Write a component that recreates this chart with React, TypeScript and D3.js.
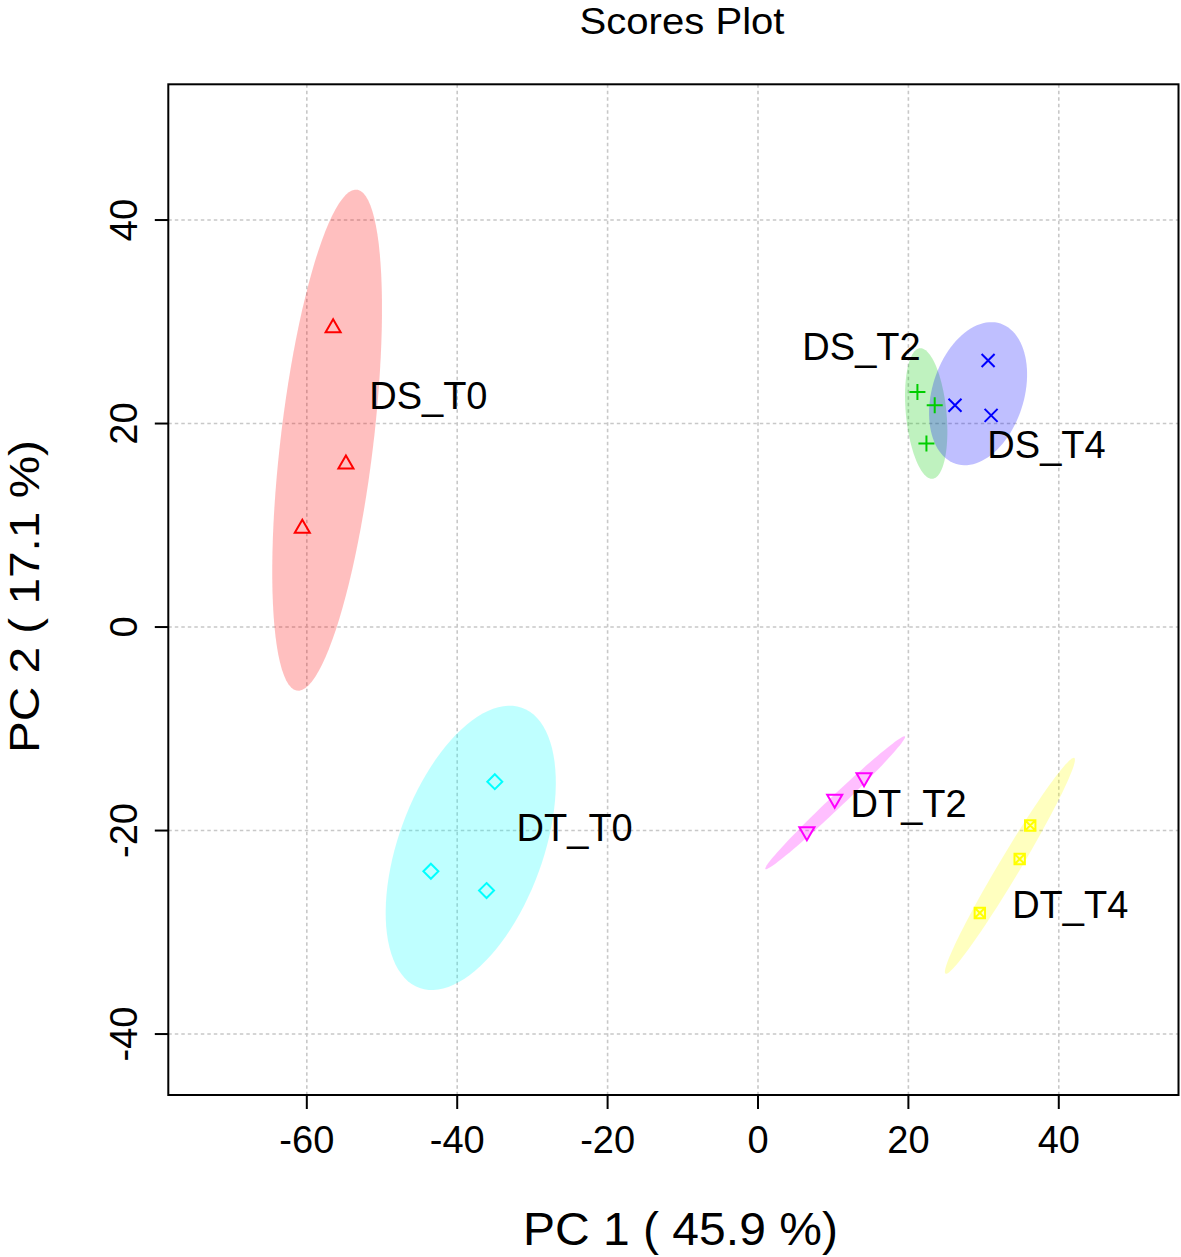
import React from "react";
import * as d3 from "d3";

// ---------- data ----------
const groups = ["DS_T0", "DS_T2", "DS_T4", "DT_T0", "DT_T2", "DT_T4"];

const pc1Scores = [
  [-56.5, -54.8, -60.6],
  [21.2, 23.5, 22.4],
  [30.6, 26.2, 31.0],
  [-35.0, -43.5, -36.1],
  [14.1, 10.2, 6.5],
  [36.2, 34.8, 29.5],
];

const pc2Scores = [
  [29.4, 16.0, 9.7],
  [23.1, 21.8, 18.05],
  [26.2, 21.8, 20.8],
  [-15.2, -24.0, -25.9],
  [-14.8, -16.9, -20.1],
  [-19.5, -22.8, -28.1],
];

// group label anchors (left edge / baseline) in score units
const labelPc1 = [-51.7, 5.9, 30.5, -32.1, 12.3, 33.8];
const labelPc2 = [21.4, 26.2, 16.6, -21.0, -18.7, -28.6];

const xTicks = [-60, -40, -20, 0, 20, 40];
const yTicks = [-40, -20, 0, 20, 40];

const titleText = "Scores Plot";
const xTitle = "PC 1 ( 45.9 %)";
const yTitle = "PC 2 ( 17.1 %)";

// ---------- styles ----------
const groupColors = ["#FF0000", "#00CD00", "#0000FF", "#00FFFF", "#FF00FF", "#FFFF00"];
const groupShapes = ["triUp", "plus", "times", "diamond", "triDown", "boxtimes"];
const FONT = "'Liberation Sans', Arial, Helvetica, sans-serif";
const W = 1181;
const H = 1257;

const x = d3.scaleLinear().domain([-78.42, 55.92]).range([168.3, 1178.5]);
const y = d3.scaleLinear().domain([53.34, -45.99]).range([84.3, 1095]);

function ellipse(xs: number[], ys: number[]): [number, number][] {
  const n = xs.length;
  const mx = d3.mean(xs) as number;
  const my = d3.mean(ys) as number;
  let sxx = 0, syy = 0, sxy = 0;
  for (let i = 0; i < n; i++) {
    const dx = xs[i] - mx, dy = ys[i] - my;
    sxx += dx * dx; syy += dy * dy; sxy += dx * dy;
  }
  sxx /= n - 1; syy /= n - 1; sxy /= n - 1;
  const tr = sxx + syy;
  const det = sxx * syy - sxy * sxy;
  const disc = Math.sqrt(Math.max(tr * tr / 4 - det, 0));
  const l1 = tr / 2 + disc;
  const l2 = Math.max(tr / 2 - disc, 0);
  const th = 0.5 * Math.atan2(2 * sxy, sxx - syy);
  const k = Math.sqrt(5.991464547); // qchisq(0.95, 2)
  const pts: [number, number][] = [];
  for (let i = 0; i < 100; i++) {
    const t = (2 * Math.PI * i) / 100;
    const u = k * Math.sqrt(l1) * Math.cos(t);
    const v = k * Math.sqrt(l2) * Math.sin(t);
    pts.push([mx + u * Math.cos(th) - v * Math.sin(th), my + u * Math.sin(th) + v * Math.cos(th)]);
  }
  return pts;
}

function markerPath(shape: string): string {
  const r = 8.7;
  switch (shape) {
    case "triUp":
      return `M0,${-r}L${0.866 * r},${0.5 * r}L${-0.866 * r},${0.5 * r}Z`;
    case "triDown":
      return `M0,${r}L${0.866 * r},${-0.5 * r}L${-0.866 * r},${-0.5 * r}Z`;
    case "plus": {
      const h = 8;
      return `M${-h},0H${h}M0,${-h}V${h}`;
    }
    case "times": {
      const h = 6.5;
      return `M${-h},${-h}L${h},${h}M${-h},${h}L${h},${-h}`;
    }
    case "diamond": {
      const h = 7.5;
      return `M0,${-h}L${h},0L0,${h}L${-h},0Z`;
    }
    case "boxtimes": {
      const s = 5.2;
      return `M${-s},${-s}H${s}V${s}H${-s}ZM${-s},${-s}L${s},${s}M${-s},${s}L${s},${-s}`;
    }
  }
  return "";
}

export default function App() {
  const [x0, x1] = x.range();
  const [y0, y1] = y.range();
  const line = d3.line().curve(d3.curveLinearClosed);

  return (
    <svg
      width={W}
      height={H}
      viewBox={`0 0 ${W} ${H}`}
      style={{ position: "absolute", left: 0, top: 0, display: "block", background: "#fff" }}
      fontFamily={FONT}
    >
      <rect x={0} y={0} width={W} height={H} fill="#fff" />
      <defs>
        <clipPath id="plotClip">
          <rect x={x0} y={y0} width={x1 - x0} height={y1 - y0} />
        </clipPath>
      </defs>

      {/* grid */}
      <g stroke="#C8C8C8" strokeWidth={1.6} strokeDasharray="3.5,3">
        {xTicks.map((t) => (
          <line key={"gx" + t} x1={x(t)} x2={x(t)} y1={y0} y2={y1} />
        ))}
        {yTicks.map((t) => (
          <line key={"gy" + t} x1={x0} x2={x1} y1={y(t)} y2={y(t)} />
        ))}
      </g>

      {/* ellipses */}
      <g clipPath="url(#plotClip)">
        {groups.map((g, gi) => {
          const pts = ellipse(pc1Scores[gi], pc2Scores[gi]).map((p) => [x(p[0]), y(p[1])] as [number, number]);
          return <path key={"e" + g} d={line(pts) || ""} fill={groupColors[gi]} fillOpacity={0.25} stroke="none" />;
        })}
      </g>

      {/* points */}
      <g fill="none" strokeWidth={2}>
        {groups.map((g, gi) =>
          pc1Scores[gi].map((v, i) => (
            <path
              key={g + i}
              d={markerPath(groupShapes[gi])}
              transform={`translate(${x(v)},${y(pc2Scores[gi][i])})`}
              stroke={groupColors[gi]}
            />
          ))
        )}
      </g>

      {/* group labels */}
      <g fontSize={38} fill="#000">
        {groups.map((g, gi) => (
          <text key={"l" + g} x={x(labelPc1[gi])} y={y(labelPc2[gi])} textAnchor="start">
            {g}
          </text>
        ))}
      </g>

      {/* box */}
      <rect x={x0} y={y0} width={x1 - x0} height={y1 - y0} fill="none" stroke="#000" strokeWidth={2} />

      {/* axes ticks */}
      <g stroke="#000" strokeWidth={2}>
        {xTicks.map((t) => (
          <line key={"tx" + t} x1={x(t)} x2={x(t)} y1={y1} y2={y1 + 14} />
        ))}
        {yTicks.map((t) => (
          <line key={"ty" + t} x1={x0} x2={x0 - 13.5} y1={y(t)} y2={y(t)} />
        ))}
      </g>
      <g fontSize={38} fill="#000">
        {xTicks.map((t) => (
          <text key={"lx" + t} x={x(t)} y={1153} textAnchor="middle">
            {t}
          </text>
        ))}
        {yTicks.map((t) => (
          <text key={"ly" + t} transform={`translate(137,${y(t)}) rotate(-90)`} textAnchor="middle">
            {t}
          </text>
        ))}
      </g>

      {/* titles */}
      <text x={682} y={34} fontSize={37} textAnchor="middle" textLength={205} lengthAdjust="spacingAndGlyphs">
        {titleText}
      </text>
      <text x={680.4} y={1245} fontSize={47} textAnchor="middle" textLength={315} lengthAdjust="spacingAndGlyphs">
        {xTitle}
      </text>
      <text
        transform="translate(39,596.5) rotate(-90)"
        fontSize={42}
        textAnchor="middle"
        textLength={313}
        lengthAdjust="spacingAndGlyphs"
      >
        {yTitle}
      </text>
    </svg>
  );
}
